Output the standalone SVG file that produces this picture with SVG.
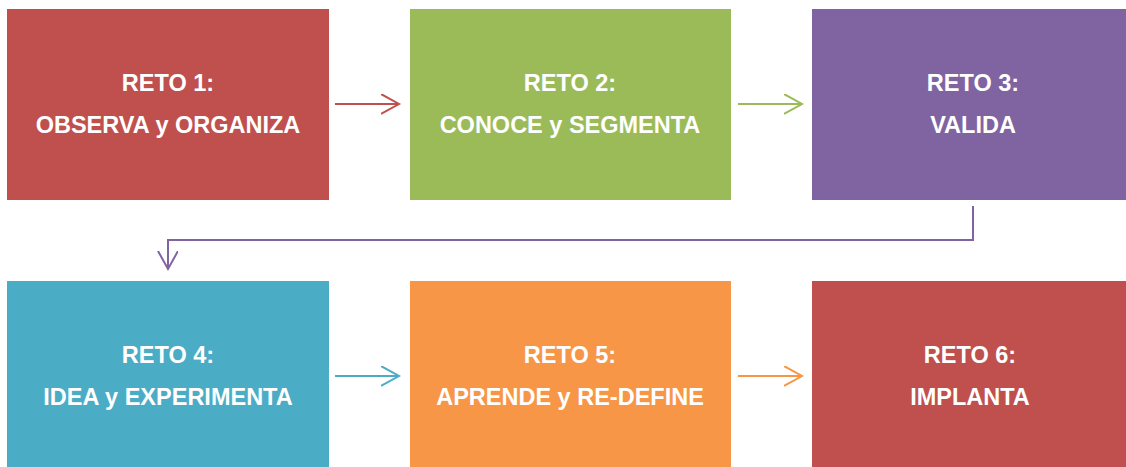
<svg xmlns="http://www.w3.org/2000/svg" width="1126" height="467" viewBox="0 0 1126 467">
<defs>
<style>
.t{font-family:"Liberation Sans",Arial,sans-serif;font-weight:bold;font-size:23.5px;fill:#fff;text-anchor:middle}
.c{fill:none;stroke-width:2}
</style>
<marker id="mr" markerWidth="24" markerHeight="24" refX="18" refY="10" orient="auto" markerUnits="userSpaceOnUse"><path d="M0,0 L18,10 L0,20" fill="none" stroke="#C0504D" stroke-width="2"/></marker>
<marker id="mg" markerWidth="24" markerHeight="24" refX="18" refY="10" orient="auto" markerUnits="userSpaceOnUse"><path d="M0,0 L18,10 L0,20" fill="none" stroke="#9BBB59" stroke-width="2"/></marker>
<marker id="mp" markerWidth="24" markerHeight="24" refX="18" refY="10" orient="auto" markerUnits="userSpaceOnUse"><path d="M0,0 L18,10 L0,20" fill="none" stroke="#8064A2" stroke-width="2"/></marker>
<marker id="mb" markerWidth="24" markerHeight="24" refX="18" refY="10" orient="auto" markerUnits="userSpaceOnUse"><path d="M0,0 L18,10 L0,20" fill="none" stroke="#4BACC6" stroke-width="2"/></marker>
<marker id="mo" markerWidth="24" markerHeight="24" refX="18" refY="10" orient="auto" markerUnits="userSpaceOnUse"><path d="M0,0 L18,10 L0,20" fill="none" stroke="#F79646" stroke-width="2"/></marker>
</defs>
<rect width="1126" height="467" fill="#fff"/>
<g id="reto1"><rect x="7" y="9" width="322" height="191" fill="#C0504D"/><text class="t" x="168" y="91">RETO 1:</text><text class="t" x="168" y="133">OBSERVA y ORGANIZA</text></g>
<g id="reto2"><rect x="410" y="9" width="321" height="191" fill="#9BBB59"/><text class="t" x="570" y="91">RETO 2:</text><text class="t" x="570" y="133">CONOCE y SEGMENTA</text></g>
<g id="reto3"><rect x="812" y="9" width="314" height="191" fill="#8064A2"/><text class="t" x="973" y="91">RETO 3:</text><text class="t" x="973" y="133">VALIDA</text></g>
<g id="reto4"><rect x="7" y="281" width="322" height="186" fill="#4BACC6"/><text class="t" x="168" y="363">RETO 4:</text><text class="t" x="168" y="405">IDEA y EXPERIMENTA</text></g>
<g id="reto5"><rect x="410" y="281" width="321" height="186" fill="#F79646"/><text class="t" x="570" y="363">RETO 5:</text><text class="t" x="570" y="405">APRENDE y RE-DEFINE</text></g>
<g id="reto6"><rect x="812" y="281" width="314" height="186" fill="#C0504D"/><text class="t" x="970" y="363">RETO 6:</text><text class="t" x="970" y="405">IMPLANTA</text></g>
<g id="connectors">
<path class="c" d="M335,104 H399" stroke="#C0504D" marker-end="url(#mr)"/>
<path class="c" d="M738,104 H802" stroke="#9BBB59" marker-end="url(#mg)"/>
<path class="c" d="M973,206 V240 H168 V269" stroke="#8064A2" marker-end="url(#mp)"/>
<path class="c" d="M335,376 H399" stroke="#4BACC6" marker-end="url(#mb)"/>
<path class="c" d="M738,376 H802" stroke="#F79646" marker-end="url(#mo)"/>
</g>
</svg>
